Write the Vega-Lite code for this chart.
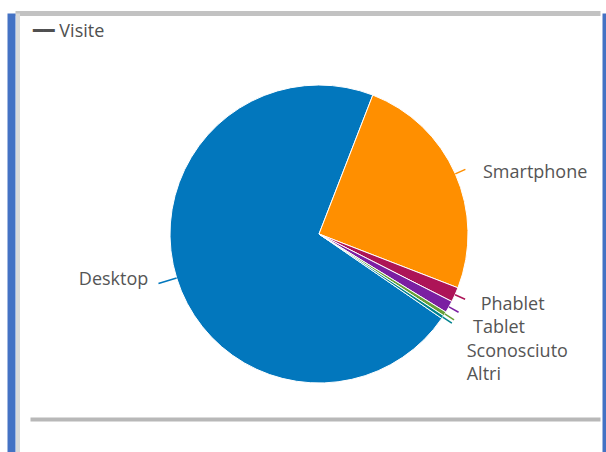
{
  "$schema": "https://vega.github.io/schema/vega-lite/v6.json",
  "width": 594,
  "height": 439,
  "autosize": {"type": "none"},
  "padding": {"left": 11, "top": 13, "right": 1, "bottom": 0},
  "background": "#ffffff",
  "config": {"view": {"stroke": null}, "font": "Open Sans"},
  "title": {
    "text": "━━ Visite",
    "anchor": "start",
    "frame": "group",
    "orient": "top",
    "offset": -42,
    "dx": 22,
    "baseline": "alphabetic",
    "fontSize": 18,
    "fontWeight": "normal",
    "color": "#505050",
    "font": "Open Sans, DejaVu Sans"
  },
  "data": {
    "values": [
      {"name": "Desktop", "value": 71.3},
      {"name": "Smartphone", "value": 25.0},
      {"name": "Phablet", "value": 1.6},
      {"name": "Tablet", "value": 1.3},
      {"name": "Sconosciuto", "value": 0.45},
      {"name": "Altri", "value": 0.35}
    ]
  },
  "layer": [
    {
      "mark": {"type": "point", "opacity": 0},
      "encoding": {
        "x": {"field": "value", "type": "quantitative", "scale": {"range": [4, 589]}, "axis": {"orient": "top", "labels": false, "ticks": false, "grid": false, "title": null, "domainColor": "#c2c2c2", "domainWidth": 5}},
        "y": {"field": "value", "type": "quantitative", "axis": {"orient": "left", "labels": false, "ticks": false, "grid": false, "title": null, "domainColor": "#4472C4", "domainWidth": 8}}
      }
    },
    {
      "mark": {"type": "point", "opacity": 0},
      "encoding": {
        "x": {"field": "value", "type": "quantitative", "scale": {"range": [19, 589]}, "axis": {"orient": "bottom", "offset": -33, "labels": false, "ticks": false, "grid": false, "title": null, "domainColor": "#b8b8b8", "domainWidth": 4}},
        "y": {"field": "value", "type": "quantitative", "axis": {"orient": "right", "labels": false, "ticks": false, "grid": false, "title": null, "domainColor": "#4472C4", "domainWidth": 6}}
      }
    },
    {
      "mark": {"type": "point", "opacity": 0},
      "encoding": {
        "y": {"field": "value", "type": "quantitative", "axis": {"orient": "left", "offset": -6.5, "labels": false, "ticks": false, "grid": false, "title": null, "domainColor": "#dadada", "domainWidth": 4}}
      }
    },
    {
      "mark": {"type": "arc", "outerRadius": 149, "stroke": "#ffffff", "strokeWidth": 1, "xOffset": 11, "yOffset": 1.5},
      "encoding": {
        "theta": {"field": "value", "type": "quantitative", "stack": true, "scale": {"range": [2.173, 8.456]}},
        "order": {"field": "value", "sort": "descending"},
        "color": {"field": "name", "type": "nominal", "legend": null, "scale": {"domain": ["Desktop", "Smartphone", "Phablet", "Tablet", "Sconosciuto", "Altri"], "range": ["#0277BD", "#FF8F00", "#AD1457", "#7B1FA2", "#689F38", "#00838F"]}}
      }
    },
    {
      "mark": {"type": "arc", "filled": false, "padAngle": 3.1, "outerRadius": 160, "innerRadius": 149, "strokeWidth": 1.5, "xOffset": 11, "yOffset": 1.5},
      "encoding": {
        "theta": {"field": "value", "type": "quantitative", "stack": true, "scale": {"range": [2.173, 8.456]}},
        "order": {"field": "value", "sort": "descending"},
        "color": {"field": "name", "type": "nominal", "legend": null, "scale": {"domain": ["Desktop", "Smartphone", "Phablet", "Tablet", "Sconosciuto", "Altri"], "range": ["#0277BD", "#FF8F00", "#AD1457", "#7B1FA2", "#689F38", "#00838F"]}},
        "strokeOpacity": {"condition": {"test": "datum.name === 'Desktop'", "value": 0}, "value": 1}
      }
    },
    {
      "mark": {"type": "arc", "filled": false, "padAngle": 3.1, "outerRadius": 168, "innerRadius": 149, "strokeWidth": 1.5, "xOffset": 11, "yOffset": 1.5},
      "encoding": {
        "theta": {"field": "value", "type": "quantitative", "stack": true, "scale": {"range": [3.293, 6.435]}},
        "order": {"field": "value", "sort": "descending"},
        "color": {"field": "name", "type": "nominal", "legend": null, "scale": {"domain": ["Desktop", "Smartphone", "Phablet", "Tablet", "Sconosciuto", "Altri"], "range": ["#0277BD", "#FF8F00", "#AD1457", "#7B1FA2", "#689F38", "#00838F"]}},
        "strokeOpacity": {"condition": {"test": "datum.name === 'Desktop'", "value": 1}, "value": 0}
      }
    },
    {
      "mark": {"type": "text", "radius": 149, "xOffset": 11, "yOffset": 1.5, "align": "right", "baseline": "alphabetic", "dx": -28.3, "dy": 7, "fontSize": 18, "font": "Open Sans", "fill": "#555555"},
      "encoding": {
        "theta": {"field": "value", "type": "quantitative", "stack": true, "scale": {"range": [2.173, 8.456]}},
        "order": {"field": "value", "sort": "descending"},
        "text": {"condition": {"test": "datum.name === 'Desktop'", "field": "name"}, "value": ""}
      }
    },
    {
      "mark": {"type": "text", "radius": 149, "xOffset": 11, "yOffset": 1.5, "align": "left", "baseline": "alphabetic", "dx": 27.7, "dy": 3.9, "fontSize": 18, "font": "Open Sans", "fill": "#555555"},
      "encoding": {
        "theta": {"field": "value", "type": "quantitative", "stack": true, "scale": {"range": [2.173, 8.456]}},
        "order": {"field": "value", "sort": "descending"},
        "text": {"condition": {"test": "datum.name === 'Smartphone'", "field": "name"}, "value": ""}
      }
    },
    {
      "mark": {"type": "text", "radius": 149, "xOffset": 11, "yOffset": 1.5, "align": "left", "baseline": "alphabetic", "dx": 25.6, "dy": 15.3, "fontSize": 18, "font": "Open Sans", "fill": "#555555"},
      "encoding": {
        "theta": {"field": "value", "type": "quantitative", "stack": true, "scale": {"range": [2.173, 8.456]}},
        "order": {"field": "value", "sort": "descending"},
        "text": {"condition": {"test": "datum.name === 'Phablet'", "field": "name"}, "value": ""}
      }
    },
    {
      "mark": {"type": "text", "radius": 149, "xOffset": 11, "yOffset": 1.5, "align": "left", "baseline": "alphabetic", "dx": 24, "dy": 26.4, "fontSize": 18, "font": "Open Sans", "fill": "#555555"},
      "encoding": {
        "theta": {"field": "value", "type": "quantitative", "stack": true, "scale": {"range": [2.173, 8.456]}},
        "order": {"field": "value", "sort": "descending"},
        "text": {"condition": {"test": "datum.name === 'Tablet'", "field": "name"}, "value": ""}
      }
    },
    {
      "mark": {"type": "text", "radius": 149, "xOffset": 11, "yOffset": 1.5, "align": "left", "baseline": "alphabetic", "dx": 21.9, "dy": 43.4, "fontSize": 18, "font": "Open Sans", "fill": "#555555"},
      "encoding": {
        "theta": {"field": "value", "type": "quantitative", "stack": true, "scale": {"range": [2.173, 8.456]}},
        "order": {"field": "value", "sort": "descending"},
        "text": {"condition": {"test": "datum.name === 'Sconosciuto'", "field": "name"}, "value": ""}
      }
    },
    {
      "mark": {"type": "text", "radius": 149, "xOffset": 11, "yOffset": 1.5, "align": "left", "baseline": "alphabetic", "dx": 24, "dy": 63, "fontSize": 18, "font": "Open Sans", "fill": "#555555"},
      "encoding": {
        "theta": {"field": "value", "type": "quantitative", "stack": true, "scale": {"range": [2.173, 8.456]}},
        "order": {"field": "value", "sort": "descending"},
        "text": {"condition": {"test": "datum.name === 'Altri'", "field": "name"}, "value": ""}
      }
    }
  ],
  "resolve": {"scale": {"x": "independent", "y": "independent", "theta": "independent"}, "axis": {"x": "independent", "y": "independent"}}
}
